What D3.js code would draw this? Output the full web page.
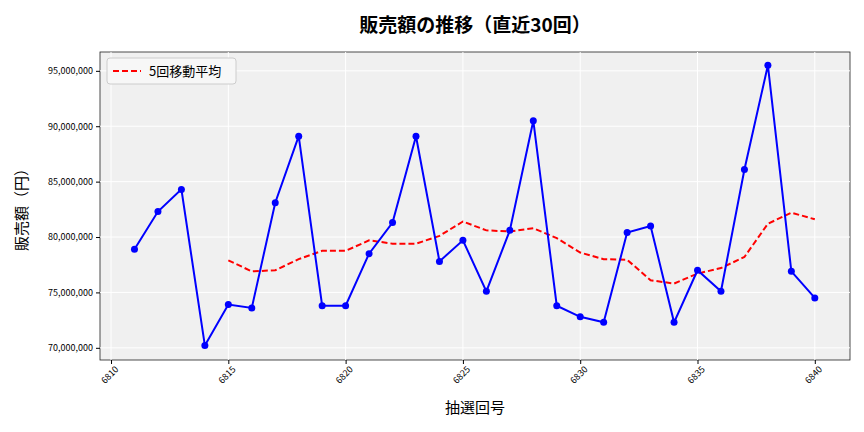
<!DOCTYPE html>
<html><head><meta charset="utf-8">
<script src="https://cdn.jsdelivr.net/npm/d3@7"></script>
<style>body{margin:0;background:#fff}text{font-family:"Noto Sans CJK JP","DejaVu Sans",sans-serif}</style>
</head><body><div id="root"></div>
<script>
const draws = d3.range(6811, 6841);
const sales = [78.9, 82.3, 84.3, 70.2, 73.9, 73.6, 83.1, 89.1, 73.8, 73.8,
    78.5, 81.3, 89.1, 77.8, 79.7, 75.1, 80.6, 90.5, 73.8, 72.8,
    72.3, 80.4, 81.0, 72.3, 77.0, 75.1, 86.1, 95.5, 76.9, 74.5].map(v => v * 1e6);
const maDraws = d3.range(6815, 6841);
const ma = [77.9, 76.9, 77.0, 78.0, 78.75, 78.75, 79.7, 79.4, 79.4, 80.1,
    81.4, 80.6, 80.5, 80.8, 79.9, 78.6, 78.0, 77.95, 76.1, 75.8,
    76.7, 77.2, 78.2, 81.2, 82.2, 81.6].map(v => v * 1e6);
const xTicks = [6810, 6815, 6820, 6825, 6830, 6835, 6840];
const yTicks = [70, 75, 80, 85, 90, 95].map(v => v * 1e6);

const W = 864, H = 432;
const m = { l: 100, r: 14, t: 52, b: 72 };
const svg = d3.select('#root').append('svg').attr('width', W).attr('height', H);

const x = d3.scaleLinear().domain([6809.53, 6841.5]).range([m.l, W - m.r]);
const y = d3.scaleLinear().domain([68.9e6, 96.7e6]).range([H - m.b, m.t]);

svg.append('rect').attr('x', m.l).attr('y', m.t)
    .attr('width', W - m.l - m.r).attr('height', H - m.t - m.b)
    .attr('fill', '#f0f0f0').attr('stroke', '#222').attr('stroke-width', 0.8);

// grid
svg.append('g').selectAll('line').data(xTicks).join('line')
    .attr('x1', d => x(d)).attr('x2', d => x(d)).attr('y1', m.t).attr('y2', H - m.b)
    .attr('stroke', '#fff').attr('stroke-width', 1);
svg.append('g').selectAll('line').data(yTicks).join('line')
    .attr('y1', d => y(d)).attr('y2', d => y(d)).attr('x1', m.l).attr('x2', W - m.r)
    .attr('stroke', '#fff').attr('stroke-width', 1);

const xa = svg.append('g').attr('transform', `translate(0,${H - m.b})`)
    .call(d3.axisBottom(x).tickValues(xTicks).tickFormat(d3.format('d')).tickSize(4));
xa.selectAll('text').attr('font-size', 9).attr('text-anchor', 'end')
    .attr('dx', '-0.2em').attr('dy', '0.6em').attr('transform', 'rotate(-45)');
const ya = svg.append('g').attr('transform', `translate(${m.l},0)`)
    .call(d3.axisLeft(y).tickValues(yTicks).tickFormat(d3.format(',')).tickSize(4));
ya.selectAll('text').attr('font-size', 9);
svg.selectAll('.domain').remove();

svg.append('path').datum(ma.map((v, i) => [maDraws[i], v]))
    .attr('fill', 'none').attr('stroke', 'red').attr('stroke-width', 2).attr('stroke-dasharray', '6,3')
    .attr('d', d3.line().x(d => x(d[0])).y(d => y(d[1])));
svg.append('path').datum(sales.map((v, i) => [draws[i], v]))
    .attr('fill', 'none').attr('stroke', 'blue').attr('stroke-width', 2)
    .attr('d', d3.line().x(d => x(d[0])).y(d => y(d[1])));
svg.append('g').selectAll('circle').data(sales).join('circle')
    .attr('cx', (d, i) => x(draws[i])).attr('cy', d => y(d)).attr('r', 3.5).attr('fill', 'blue');

svg.append('text').attr('x', (m.l + W - m.r) / 2).attr('y', 32).attr('text-anchor', 'middle')
    .attr('font-size', 19).attr('font-weight', 'bold').text('販売額の推移（直近30回）');
svg.append('text').attr('x', (m.l + W - m.r) / 2).attr('y', 413).attr('text-anchor', 'middle')
    .attr('font-size', 15).text('抽選回号');
svg.append('text').attr('transform', `translate(27,${(m.t + H - m.b) / 2}) rotate(-90)`)
    .attr('text-anchor', 'middle').attr('font-size', 15).text('販売額（円）');

const lg = svg.append('g').attr('transform', 'translate(107,58)');
lg.append('rect').attr('width', 129).attr('height', 26).attr('rx', 3)
    .attr('fill', '#f7f7f7').attr('stroke', '#ccc');
lg.append('line').attr('x1', 6).attr('x2', 34).attr('y1', 13).attr('y2', 13)
    .attr('stroke', 'red').attr('stroke-width', 2).attr('stroke-dasharray', '6,3');
lg.append('text').attr('x', 42).attr('y', 18).attr('font-size', 13).text('5回移動平均');
</script></body></html>
